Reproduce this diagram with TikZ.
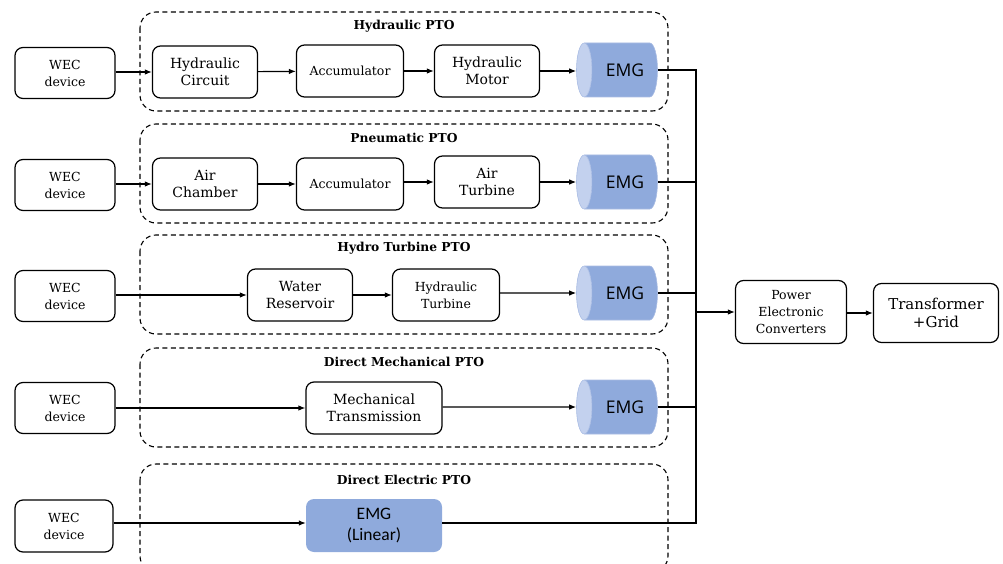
\documentclass[tikz,border=0pt]{standalone}
\usepackage{fontspec}
\setmainfont{DejaVu Serif}
\newfontfamily\emgfont{Open Sans}
\newfontfamily\calfont{Carlito}
\usetikzlibrary{shapes.geometric,arrows.meta}
\definecolor{emgblue}{HTML}{8FAADC}
\definecolor{emglight}{HTML}{C3D1EE}
\definecolor{emgline}{HTML}{A9BCE3}
\begin{document}
\begin{tikzpicture}[x=1pt,y=-1pt,
  box/.style={draw,line width=1.2pt,rounded corners=8pt,align=center,inner sep=0pt,
    minimum width=105pt,minimum height=52pt,font=\fontsize{14}{17}\selectfont},
  small/.style={font=\fontsize{12.5}{17}\selectfont},
  grp/.style={draw,dash pattern=on 5pt off 3.5pt,line width=1.1pt,rounded corners=16pt},
  grptitle/.style={font=\bfseries\fontsize{12.3}{15}\selectfont},
  emg/.style={cylinder,shape border rotate=180,aspect=1.2,minimum height=81pt,
    minimum width=54pt,inner sep=0pt,cylinder uses custom fill,cylinder body fill=emgblue,
    cylinder end fill=emglight,draw=emgline,line width=0.6pt,
    font=\emgfont\fontsize{17.5}{20}\selectfont},
  flow/.style={line width=1.2pt,-{Latex[length=7pt,width=5.5pt]}},
  wire/.style={line width=1.2pt}]
\useasboundingbox (0,0) rectangle (1003,564);

% dashed PTO groups
\draw[grp] (140,12) rectangle (668,111);
\node[grptitle] (t1) at (404,26) {Hydraulic PTO};
\draw[grp] (140,124) rectangle (668,223);
\node[grptitle] (t2) at (404,138) {Pneumatic PTO};
\draw[grp] (140,235) rectangle (668,334);
\node[grptitle] (t3) at (404,248) {Hydro Turbine PTO};
\draw[grp] (140,348) rectangle (668,447);
\node[grptitle] (t4) at (404,362) {Direct Mechanical PTO};
\draw[grp] (140,464) rectangle (668,572);
\node[grptitle] (t5) at (404,480) {Direct Electric PTO};

% row 1: hydraulic
\node[box,small,minimum width=100pt,minimum height=51pt] (w1) at (65,73) {WEC\\device};
\node[box] (hc) at (205,72) {Hydraulic\\Circuit};
\node[box,small,minimum width=107pt] (ac1) at (350,71) {Accumulator};
\node[box] (hm) at (487,71) {Hydraulic\\Motor};
\node[emg] (e1) at (621,70) {\hspace*{8pt}EMG};

% row 2: pneumatic
\node[box,small,minimum width=100pt,minimum height=51pt] (w2) at (65,185) {WEC\\device};
\node[box] (ach) at (205,184) {Air\\Chamber};
\node[box,small,minimum width=107pt] (ac2) at (350,184) {Accumulator};
\node[box] (at) at (487,182) {Air\\Turbine};
\node[emg] (e2) at (621,182) {\hspace*{8pt}EMG};

% row 3: hydro turbine
\node[box,small,minimum width=100pt,minimum height=51pt] (w3) at (65,296) {WEC\\device};
\node[box] (wr) at (300,295) {Water\\Reservoir};
\node[box,small,minimum width=107pt] (ht) at (446,295) {Hydraulic\\Turbine};
\node[emg] (e3) at (621,293) {\hspace*{8pt}EMG};

% row 4: direct mechanical
\node[box,small,minimum width=100pt,minimum height=51pt] (w4) at (65,408) {WEC\\device};
\node[box,minimum width=136pt] (mt) at (374,408) {Mechanical\\Transmission};
\node[emg] (e4) at (621,407) {\hspace*{8pt}EMG};

% row 5: direct electric
\node[box,small,minimum width=98pt,minimum height=52pt] (w5) at (64,526) {WEC\\device};
\node[fill=emgblue,rounded corners=8pt,minimum width=136pt,minimum height=53pt,align=center,
  inner sep=0pt,font=\calfont\fontsize{17.5}{21}\selectfont] (el) at (374,525.5) {EMG\\(Linear)};

% grid side
\node[box,small,minimum width=111pt,minimum height=63pt] (pec) at (791,312) {Power\\Electronic\\Converters};
\node[box,font=\fontsize{15}{18}\selectfont,minimum width=125pt,minimum height=59pt] (tg) at (936,313) {Transformer\\+Grid};
\coordinate (bus1) at (696,70);
\coordinate (bus5) at (696,523);
\coordinate (busm) at (696,312);

% flows along each chain
\draw[flow] (w1.east |- hc) -- (hc);
\draw[flow] (hc) -- (ac1);
\draw[flow] (ac1) -- (hm);
\draw[flow] (hm.east) -- (hm.east -| e1.west);
\draw[flow] (w2.east |- ach) -- (ach);
\draw[flow] (ach.east |- ac2) -- (ac2);
\draw[flow] (ac2.east |- at) -- (at);
\draw[flow] (at.east) -- (at.east -| e2.west);
\draw[flow] (w3.east |- wr) -- (wr);
\draw[flow] (wr) -- (ht);
\draw[flow] (ht.east |- e3) -- (e3.west);
\draw[flow] (w4) -- (w4.east -| mt.west);
\draw[flow] (mt.east |- e4) -- (e4.west);
\draw[flow] (w5.east |- bus5) -- (el.west |- bus5);

% collector bus to the converters
\draw[wire] (e1.east |- bus1) -- (bus1) -- (bus5) -- (el.east |- bus5);
\draw[wire] (e2.east) -- (e2.east -| bus1);
\draw[wire] (e3.east) -- (e3.east -| bus1);
\draw[wire] (e4.east) -- (e4.east -| bus1);
\draw[flow] (busm) -- (pec.west);
\draw[flow] (pec.east |- tg) -- (tg.west);
\end{tikzpicture}
\end{document}
